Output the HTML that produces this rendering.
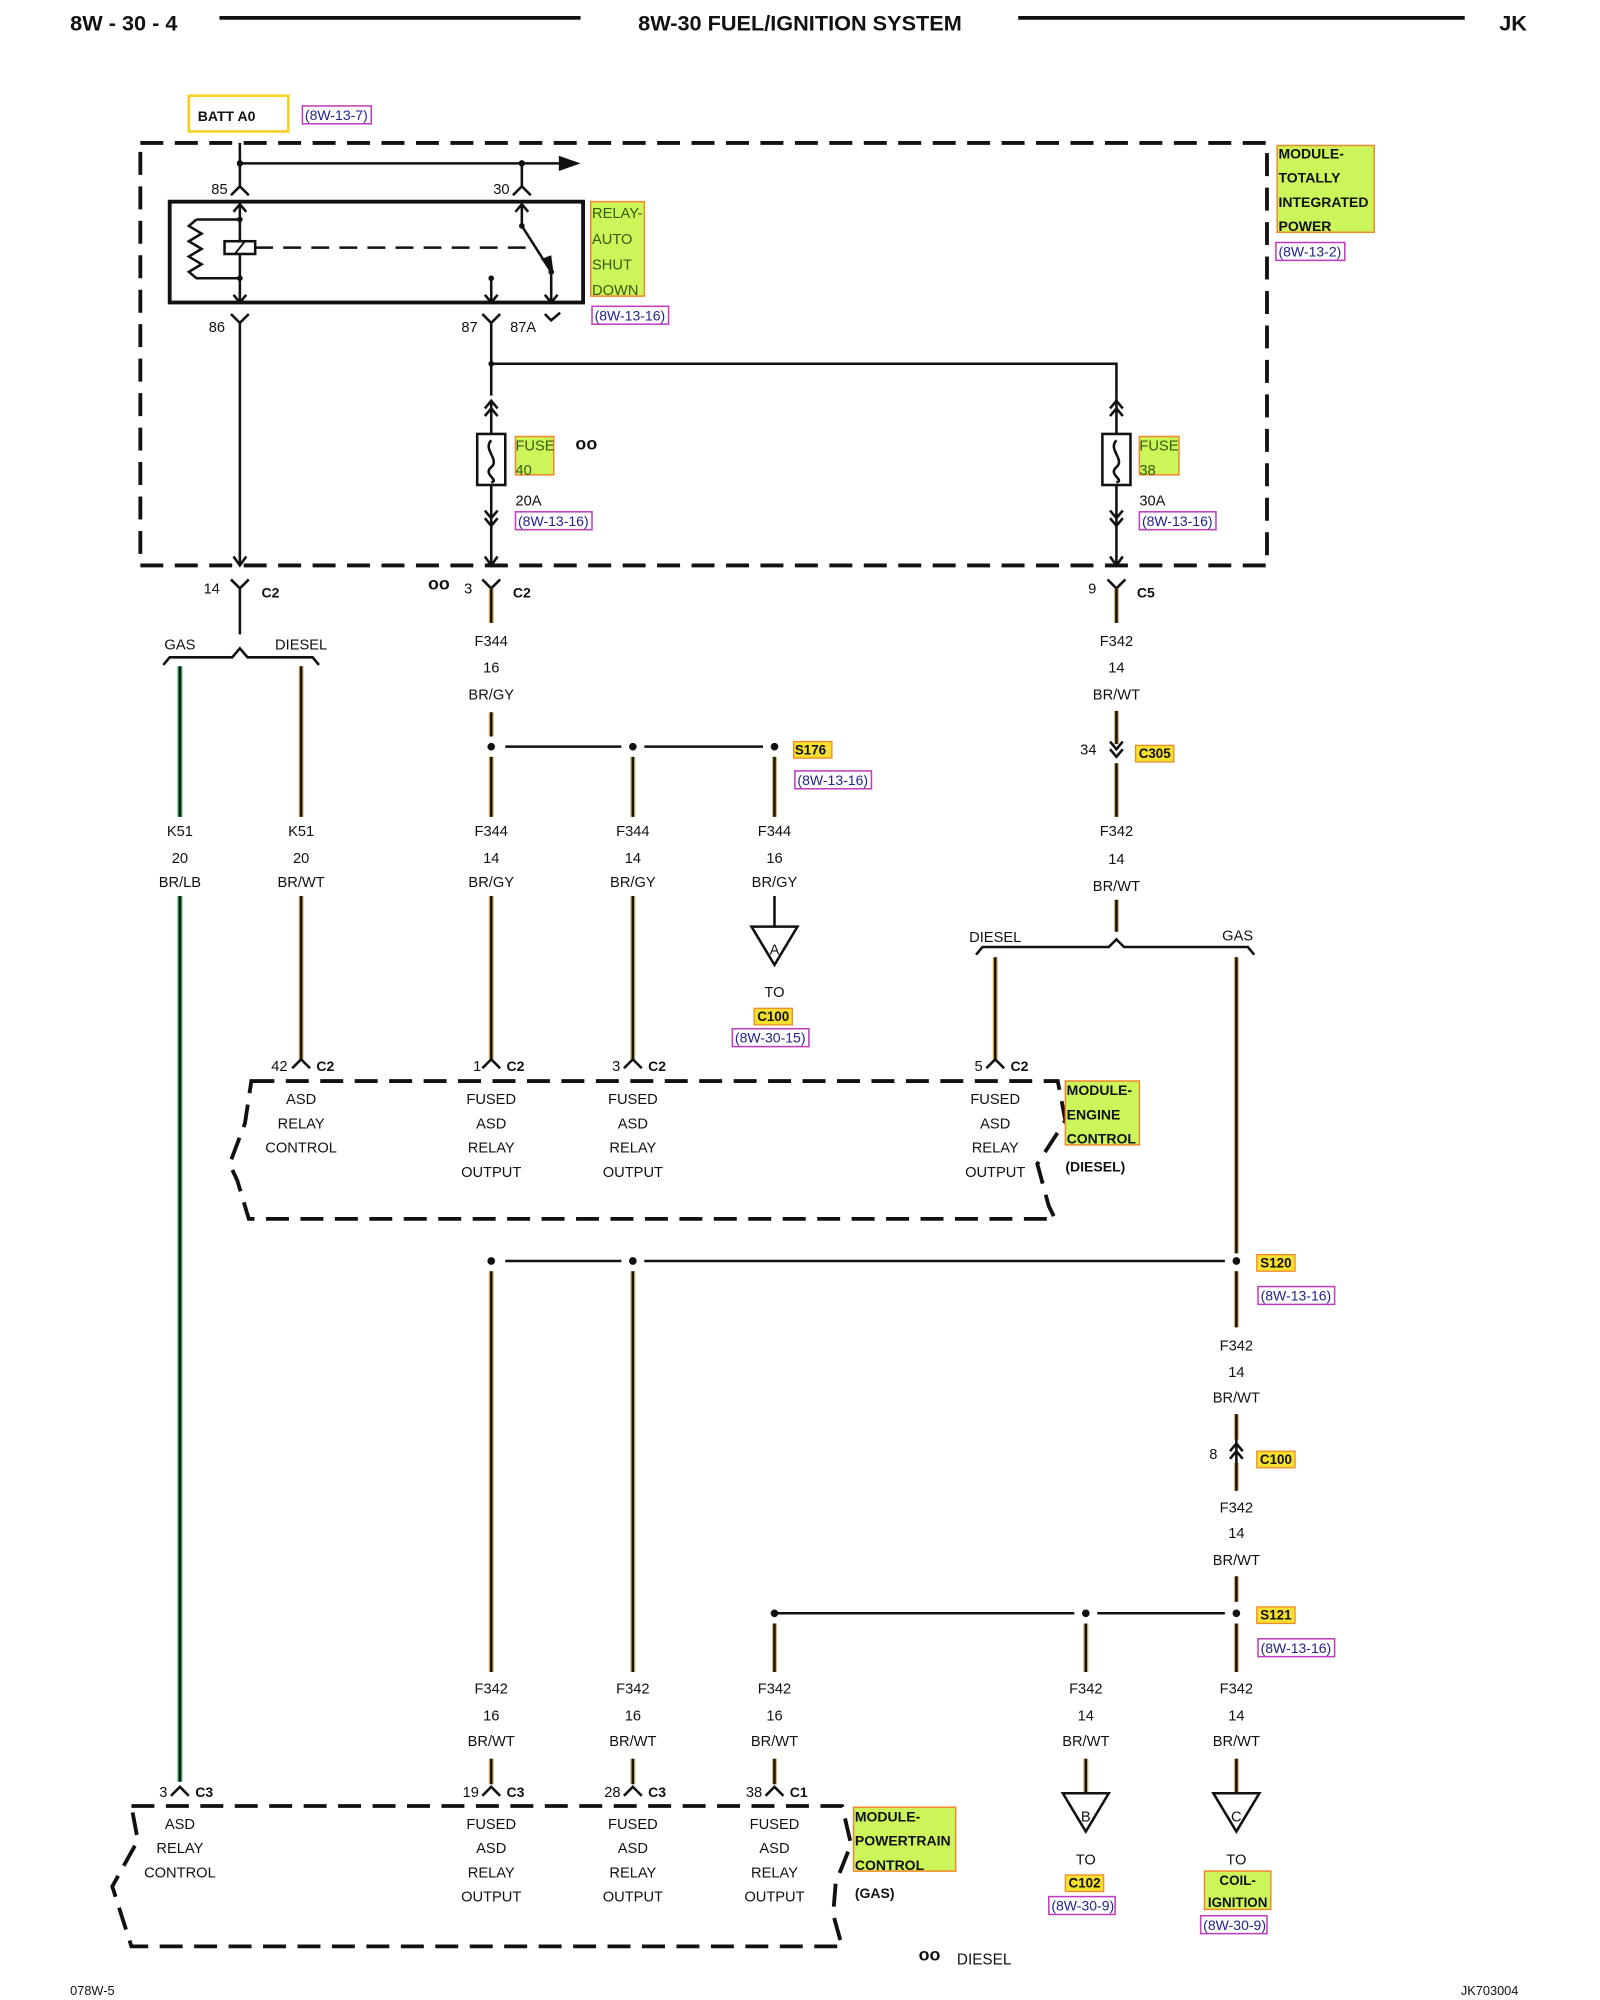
<!DOCTYPE html>
<html><head><meta charset="utf-8"><style>
html,body{margin:0;padding:0;background:#fff;}
svg{display:block;}
text{font-family:"Liberation Sans",sans-serif;fill:#111;}
.t{font-size:11.5px;text-anchor:middle;}
.b{font-weight:bold;}
.h{font-size:17px;font-weight:bold;}
.lbl{fill:#ccf55a;stroke:#f08a2a;stroke-width:1.2;}
.ref{fill:none;stroke:#c03cc0;stroke-width:1.2;}
.rt{font-size:11px;fill:#22228a;}
.w{stroke:#111;stroke-width:2;fill:none;}
.br{stroke:#d9b66a;stroke-width:4;fill:none;}
.gr{stroke:#39c06a;stroke-width:4;fill:none;}
.dash{stroke:#111;stroke-width:3;fill:none;stroke-dasharray:18,9;}
</style></head><body>
<svg width="1600" height="2000" viewBox="0 0 1254 1567" preserveAspectRatio="none" xmlns="http://www.w3.org/2000/svg">
<!-- header -->
<text x="55" y="24" class="h">8W - 30 - 4</text>
<line x1="172" y1="14" x2="455" y2="14" stroke="#111" stroke-width="3"/>
<text x="627" y="24" class="h" text-anchor="middle">8W-30 FUEL/IGNITION SYSTEM</text>
<line x1="798" y1="14" x2="1148" y2="14" stroke="#111" stroke-width="3"/>
<text x="1175" y="24" class="h">JK</text>

<!-- BATT -->
<rect x="148" y="75" width="78" height="28" fill="none" stroke="#f5d020" stroke-width="2"/>
<text x="155" y="95" font-size="11" class="b">BATT A0</text>
<rect x="237" y="83" width="54" height="14" class="ref"/><text x="239" y="94" class="rt">(8W-13-7)</text>

<!-- TIPM box -->
<rect x="110" y="112" width="883" height="331" class="dash"/>
<rect x="1001" y="114" width="76" height="68" class="lbl"/>
<text x="1002" y="124" font-size="11" class="b">MODULE-</text>
<text x="1002" y="143" font-size="11" class="b">TOTALLY</text>
<text x="1002" y="162" font-size="11" class="b">INTEGRATED</text>
<text x="1002" y="181" font-size="11" class="b">POWER</text>
<rect x="1000" y="190" width="54" height="14" class="ref"/><text x="1002" y="201" class="rt">(8W-13-2)</text>

<!-- top wiring -->
<path class="w" d="M188 112 V147 M188 128 H440 M409 128 V147"/>
<polygon points="438,122 455,128 438,134" fill="#111"/>
<circle cx="188" cy="128" r="2.5" fill="#111"/><circle cx="409" cy="128" r="2.5" fill="#111"/>
<path class="w" d="M181 153 L188 146 L195 153 M402 153 L409 146 L416 153"/>
<text x="172" y="152" class="t">85</text><text x="393" y="152" class="t">30</text>

<!-- relay -->
<rect x="133" y="158" width="324" height="79" fill="none" stroke="#111" stroke-width="3"/>
<path class="w" d="M188 158 V237 M183 166 L188 160 L193 166 M183 231 L188 237 L193 231"/>
<path class="w" d="M188 172 H154 M154 172 L148 177 L158 183 L148 189 L158 195 L148 201 L158 207 L148 213 L154 218 H188"/>
<circle cx="188" cy="172" r="2.2" fill="#111"/><circle cx="188" cy="218" r="2.2" fill="#111"/>
<rect x="176" y="189" width="24" height="10" fill="#fff" stroke="#111" stroke-width="2"/>
<line x1="184" y1="199" x2="192" y2="189" stroke="#111" stroke-width="1.5"/>
<line x1="200" y1="194" x2="420" y2="194" stroke="#111" stroke-width="2" stroke-dasharray="14,8"/>
<path class="w" d="M409 158 V177 L432 213 V237 M404 166 L409 160 L414 166 M385 218 V237 M380 231 L385 237 L390 231 M427 231 L432 237 L437 231"/>
<polygon points="424,203 434,215 432,200" fill="#111"/>
<circle cx="409" cy="177" r="2.2" fill="#111"/><circle cx="385" cy="218" r="2.2" fill="#111"/><circle cx="432" cy="213" r="2.2" fill="#111"/>
<rect x="463" y="158" width="42" height="74" class="lbl"/>
<text x="464" y="171" font-size="11.5" style="fill:#3a5a10">RELAY-</text>
<text x="464" y="191" font-size="11.5" style="fill:#3a5a10">AUTO</text>
<text x="464" y="211" font-size="11.5" style="fill:#3a5a10">SHUT</text>
<text x="464" y="231" font-size="11.5" style="fill:#3a5a10">DOWN</text>
<rect x="464" y="240" width="60" height="14" class="ref"/><text x="466" y="251" class="rt">(8W-13-16)</text>

<path class="w" d="M181 246 L188 253 L195 246 M188 253 V443 M378 246 L385 253 L392 246 M385 253 V310 M427 246 L432 251 L439 245"/>
<text x="170" y="260" class="t">86</text><text x="368" y="260" class="t">87</text><text x="410" y="260" class="t">87A</text>
<path class="w" d="M183 436 L188 443 L193 436"/>
<circle cx="385" cy="285" r="2.2" fill="#111"/>
<path class="w" d="M385 285 H875 V310"/>

<!-- fuse 40 -->
<path class="w" d="M380 320 L385 314 L390 320 M380 326 L385 320 L390 326 M385 314 V340 M385 380 V443 M380 400 L385 406 L390 400 M380 406 L385 412 L390 406 M380 436 L385 443 L390 436"/>
<rect x="374" y="340" width="22" height="40" fill="#fff" stroke="#111" stroke-width="2"/>
<path class="w" d="M385 345 C378 352 392 360 385 366 C378 372 392 376 385 378" stroke-width="1.5"/>
<rect x="404" y="342" width="30" height="30" class="lbl"/>
<text x="404" y="353" font-size="11.5" style="fill:#3a5a10">FUSE</text><text x="404" y="372" font-size="11.5" style="fill:#3a5a10">40</text>
<text x="451" y="352" font-size="14" class="b">oo</text>
<text x="404" y="396" font-size="11.5">20A</text>
<rect x="404" y="401" width="60" height="14" class="ref"/><text x="406" y="412" class="rt">(8W-13-16)</text>

<!-- fuse 38 -->
<path class="w" d="M870 320 L875 314 L880 320 M870 326 L875 320 L880 326 M875 310 V340 M875 380 V443 M870 400 L875 406 L880 400 M870 406 L875 412 L880 406 M870 436 L875 443 L880 436"/>
<rect x="864" y="340" width="22" height="40" fill="#fff" stroke="#111" stroke-width="2"/>
<path class="w" d="M875 345 C868 352 882 360 875 366 C868 372 882 376 875 378" stroke-width="1.5"/>
<rect x="893" y="342" width="31" height="30" class="lbl"/>
<text x="893" y="353" font-size="11.5" style="fill:#3a5a10">FUSE</text><text x="893" y="372" font-size="11.5" style="fill:#3a5a10">38</text>
<text x="893" y="396" font-size="11.5">30A</text>
<rect x="893" y="401" width="60" height="14" class="ref"/><text x="895" y="412" class="rt">(8W-13-16)</text>

<!-- under-box connectors -->
<path class="w" d="M181 454 L188 461 L195 454 M188 461 V497 M378 454 L385 461 L392 454 M868 454 L875 461 L882 454"/>
<text x="166" y="465" class="t">14</text><text x="205" y="468" font-size="11" class="b">C2</text>
<text x="344" y="462" font-size="14" class="b" text-anchor="middle">oo</text>
<text x="367" y="465" class="t">3</text><text x="402" y="468" font-size="11" class="b">C2</text>
<text x="856" y="465" class="t">9</text><text x="891" y="468" font-size="11" class="b">C5</text>

<!-- GAS/DIESEL split -->
<text x="141" y="509" class="t">GAS</text><text x="236" y="509" class="t">DIESEL</text>
<path class="w" d="M128 521 L133 515 H182 L188 508 L194 515 H245 L250 521" stroke-width="1.5"/>
<line x1="141" y1="522" x2="141" y2="640" class="gr"/><line x1="141" y1="522" x2="141" y2="640" class="w"/>
<line x1="236" y1="522" x2="236" y2="640" class="br"/><line x1="236" y1="522" x2="236" y2="640" class="w"/>

<!-- F344 -->
<text x="385" y="506" class="t">F344</text><text x="385" y="527" class="t">16</text><text x="385" y="548" class="t">BR/GY</text>
<path class="br" d="M385 461 V488 M385 558 V577 M385 593 V640 M496 593 V640 M607 593 V640"/>
<path class="w" d="M385 461 V488 M385 558 V577 M385 593 V640 M496 593 V640 M607 593 V640"/>
<path class="w" d="M396 585 H487 M505 585 H598"/>
<circle cx="385" cy="585" r="3" fill="#111"/><circle cx="496" cy="585" r="3" fill="#111"/><circle cx="607" cy="585" r="3" fill="#111"/>
<rect x="622" y="581" width="30" height="13" fill="#f5e030" stroke="#f08a2a"/><text x="623" y="591" font-size="10.5" class="b">S176</text>
<rect x="623" y="604" width="60" height="14" class="ref"/><text x="625" y="615" class="rt">(8W-13-16)</text>

<text x="141" y="655" class="t">K51</text><text x="141" y="676" class="t">20</text><text x="141" y="695" class="t">BR/LB</text>
<text x="236" y="655" class="t">K51</text><text x="236" y="676" class="t">20</text><text x="236" y="695" class="t">BR/WT</text>
<text x="385" y="655" class="t">F344</text><text x="385" y="676" class="t">14</text><text x="385" y="695" class="t">BR/GY</text>
<text x="496" y="655" class="t">F344</text><text x="496" y="676" class="t">14</text><text x="496" y="695" class="t">BR/GY</text>
<text x="607" y="655" class="t">F344</text><text x="607" y="676" class="t">16</text><text x="607" y="695" class="t">BR/GY</text>

<line x1="141" y1="702" x2="141" y2="1396" class="gr"/><line x1="141" y1="702" x2="141" y2="1396" class="w"/>
<path class="br" d="M236 702 V830 M385 702 V830 M496 702 V830"/>
<path class="w" d="M236 702 V830 M385 702 V830 M496 702 V830 M607 702 V726"/>
<polygon points="589,726 625,726 607,756" fill="#fff" stroke="#111" stroke-width="2"/>
<text x="607" y="748" class="t" font-size="11">A</text>
<text x="607" y="781" class="t">TO</text>
<rect x="591" y="790" width="30" height="13" fill="#f5e030" stroke="#f08a2a"/><text x="606" y="800" font-size="10.5" class="b" text-anchor="middle">C100</text>
<rect x="574" y="806" width="60" height="14" class="ref"/><text x="576" y="817" class="rt">(8W-30-15)</text>

<!-- F342 right -->
<text x="875" y="506" class="t">F342</text><text x="875" y="527" class="t">14</text><text x="875" y="548" class="t">BR/WT</text>
<path class="br" d="M875 461 V488 M875 557 V583 M875 598 V640 M875 705 V730"/>
<path class="w" d="M875 461 V488 M875 557 V583 M875 598 V640 M875 705 V730 M870 581 L875 587 L880 581 M870 587 L875 593 L880 587"/>
<text x="853" y="591" class="t">34</text>
<rect x="890" y="584" width="30" height="13" fill="#f5e030" stroke="#f08a2a"/><text x="905" y="594" font-size="10.5" class="b" text-anchor="middle">C305</text>
<text x="875" y="655" class="t">F342</text><text x="875" y="677" class="t">14</text><text x="875" y="698" class="t">BR/WT</text>
<text x="780" y="738" class="t">DIESEL</text><text x="970" y="737" class="t">GAS</text>
<path class="w" d="M765 748 L770 742 H869 L875 736 L881 742 H978 L983 748" stroke-width="1.5"/>
<path class="br" d="M780 750 V830 M969 750 V982"/>
<path class="w" d="M780 750 V830 M969 750 V982"/>

<!-- ECM connectors -->
<path class="w" d="M229 837 L236 830 L243 837 M378 837 L385 830 L392 837 M489 837 L496 830 L503 837 M773 837 L780 830 L787 837"/>
<text x="219" y="839" class="t">42</text><text x="248" y="839" font-size="11" class="b">C2</text>
<text x="374" y="839" class="t">1</text><text x="397" y="839" font-size="11" class="b">C2</text>
<text x="483" y="839" class="t">3</text><text x="508" y="839" font-size="11" class="b">C2</text>
<text x="767" y="839" class="t">5</text><text x="792" y="839" font-size="11" class="b">C2</text>
<path class="dash" d="M197 847 H829 L835 878 L813 912 L822 945 L827 955 H195 L186 925 L180 912 L192 880 Z"/>
<text x="236" y="865" class="t">ASD</text><text x="236" y="884" class="t">RELAY</text><text x="236" y="903" class="t">CONTROL</text>
<text x="385" y="865" class="t">FUSED</text><text x="385" y="884" class="t">ASD</text><text x="385" y="903" class="t">RELAY</text><text x="385" y="922" class="t">OUTPUT</text>
<text x="496" y="865" class="t">FUSED</text><text x="496" y="884" class="t">ASD</text><text x="496" y="903" class="t">RELAY</text><text x="496" y="922" class="t">OUTPUT</text>
<text x="780" y="865" class="t">FUSED</text><text x="780" y="884" class="t">ASD</text><text x="780" y="903" class="t">RELAY</text><text x="780" y="922" class="t">OUTPUT</text>
<rect x="835" y="847" width="58" height="50" class="lbl"/>
<text x="836" y="858" font-size="11" class="b">MODULE-</text><text x="836" y="877" font-size="11" class="b">ENGINE</text><text x="836" y="896" font-size="11" class="b">CONTROL</text>
<text x="835" y="918" font-size="11" class="b">(DIESEL)</text>

<!-- S120 -->
<path class="w" d="M396 988 H487 M505 988 H960"/>
<circle cx="385" cy="988" r="3" fill="#111"/><circle cx="496" cy="988" r="3" fill="#111"/><circle cx="969" cy="988" r="3" fill="#111"/>
<path class="br" d="M385 996 V1310 M496 996 V1310 M969 996 V1040"/>
<path class="w" d="M385 996 V1310 M496 996 V1310 M969 996 V1040"/>
<rect x="985" y="983" width="30" height="13" fill="#f5e030" stroke="#f08a2a"/><text x="1000" y="993" font-size="10.5" class="b" text-anchor="middle">S120</text>
<rect x="986" y="1008" width="60" height="14" class="ref"/><text x="988" y="1019" class="rt">(8W-13-16)</text>
<text x="969" y="1058" class="t">F342</text><text x="969" y="1079" class="t">14</text><text x="969" y="1099" class="t">BR/WT</text>
<path class="br" d="M969 1108 V1128 M969 1146 V1168"/>
<path class="w" d="M969 1108 V1168 M964 1137 L969 1131 L974 1137 M964 1143 L969 1137 L974 1143"/>
<text x="951" y="1143" class="t">8</text>
<rect x="985" y="1137" width="30" height="13" fill="#f5e030" stroke="#f08a2a"/><text x="1000" y="1147" font-size="10.5" class="b" text-anchor="middle">C100</text>
<text x="969" y="1185" class="t">F342</text><text x="969" y="1205" class="t">14</text><text x="969" y="1226" class="t">BR/WT</text>
<path class="br" d="M969 1235 V1255"/><path class="w" d="M969 1235 V1255"/>

<!-- S121 -->
<path class="w" d="M607 1264 H842 M860 1264 H960"/>
<circle cx="607" cy="1264" r="3" fill="#111"/><circle cx="851" cy="1264" r="3" fill="#111"/><circle cx="969" cy="1264" r="3" fill="#111"/>
<rect x="985" y="1259" width="30" height="13" fill="#f5e030" stroke="#f08a2a"/><text x="1000" y="1269" font-size="10.5" class="b" text-anchor="middle">S121</text>
<rect x="986" y="1284" width="60" height="14" class="ref"/><text x="988" y="1295" class="rt">(8W-13-16)</text>
<path class="br" d="M607 1272 V1310 M851 1272 V1310 M969 1272 V1310"/>
<path class="w" d="M607 1272 V1310 M851 1272 V1310 M969 1272 V1310"/>

<text x="385" y="1327" class="t">F342</text><text x="385" y="1348" class="t">16</text><text x="385" y="1368" class="t">BR/WT</text>
<text x="496" y="1327" class="t">F342</text><text x="496" y="1348" class="t">16</text><text x="496" y="1368" class="t">BR/WT</text>
<text x="607" y="1327" class="t">F342</text><text x="607" y="1348" class="t">16</text><text x="607" y="1368" class="t">BR/WT</text>
<text x="851" y="1327" class="t">F342</text><text x="851" y="1348" class="t">14</text><text x="851" y="1368" class="t">BR/WT</text>
<text x="969" y="1327" class="t">F342</text><text x="969" y="1348" class="t">14</text><text x="969" y="1368" class="t">BR/WT</text>

<path class="br" d="M385 1378 V1398 M496 1378 V1398 M607 1378 V1398 M851 1378 V1405 M969 1378 V1405"/>
<path class="w" d="M385 1378 V1398 M496 1378 V1398 M607 1378 V1398 M851 1378 V1405 M969 1378 V1405"/>
<polygon points="833,1405 869,1405 851,1435" fill="#fff" stroke="#111" stroke-width="2"/>
<polygon points="951,1405 987,1405 969,1435" fill="#fff" stroke="#111" stroke-width="2"/>
<text x="851" y="1427" class="t" font-size="11">B</text><text x="969" y="1427" class="t" font-size="11">C</text>
<text x="851" y="1461" class="t">TO</text><text x="969" y="1461" class="t">TO</text>
<rect x="835" y="1469" width="30" height="13" fill="#f5e030" stroke="#f08a2a"/><text x="850" y="1479" font-size="10.5" class="b" text-anchor="middle">C102</text>
<rect x="822" y="1486" width="52" height="14" class="ref"/><text x="824" y="1497" class="rt">(8W-30-9)</text>
<rect x="944" y="1466" width="52" height="30" class="lbl"/>
<text x="970" y="1477" font-size="10.5" class="b" text-anchor="middle">COIL-</text><text x="970" y="1494" font-size="10.5" class="b" text-anchor="middle">IGNITION</text>
<rect x="941" y="1501" width="52" height="14" class="ref"/><text x="943" y="1512" class="rt">(8W-30-9)</text>

<!-- PCM connectors -->
<path class="w" d="M134 1407 L141 1400 L148 1407 M378 1407 L385 1400 L392 1407 M489 1407 L496 1400 L503 1407 M600 1407 L607 1400 L614 1407"/>
<text x="128" y="1408" class="t">3</text><text x="153" y="1408" font-size="11" class="b">C3</text>
<text x="369" y="1408" class="t">19</text><text x="397" y="1408" font-size="11" class="b">C3</text>
<text x="480" y="1408" class="t">28</text><text x="508" y="1408" font-size="11" class="b">C3</text>
<text x="591" y="1408" class="t">38</text><text x="619" y="1408" font-size="11" class="b">C1</text>
<path class="dash" d="M103 1415 H660 L667 1445 L655 1475 L653 1500 L660 1525 H103 L95 1500 L88 1478 L108 1442 Z"/>
<text x="141" y="1433" class="t">ASD</text><text x="141" y="1452" class="t">RELAY</text><text x="141" y="1471" class="t">CONTROL</text>
<text x="385" y="1433" class="t">FUSED</text><text x="385" y="1452" class="t">ASD</text><text x="385" y="1471" class="t">RELAY</text><text x="385" y="1490" class="t">OUTPUT</text>
<text x="496" y="1433" class="t">FUSED</text><text x="496" y="1452" class="t">ASD</text><text x="496" y="1471" class="t">RELAY</text><text x="496" y="1490" class="t">OUTPUT</text>
<text x="607" y="1433" class="t">FUSED</text><text x="607" y="1452" class="t">ASD</text><text x="607" y="1471" class="t">RELAY</text><text x="607" y="1490" class="t">OUTPUT</text>
<rect x="669" y="1416" width="80" height="50" class="lbl"/>
<text x="670" y="1427" font-size="11" class="b">MODULE-</text><text x="670" y="1446" font-size="11" class="b">POWERTRAIN</text><text x="670" y="1465" font-size="11" class="b">CONTROL</text>
<text x="670" y="1487" font-size="11" class="b">(GAS)</text>

<text x="720" y="1536" font-size="14" class="b">oo</text><text x="750" y="1539" font-size="12">DIESEL</text>
<text x="55" y="1563" font-size="10">078W-5</text>
<text x="1145" y="1563" font-size="10">JK703004</text>
</svg>
</body></html>
